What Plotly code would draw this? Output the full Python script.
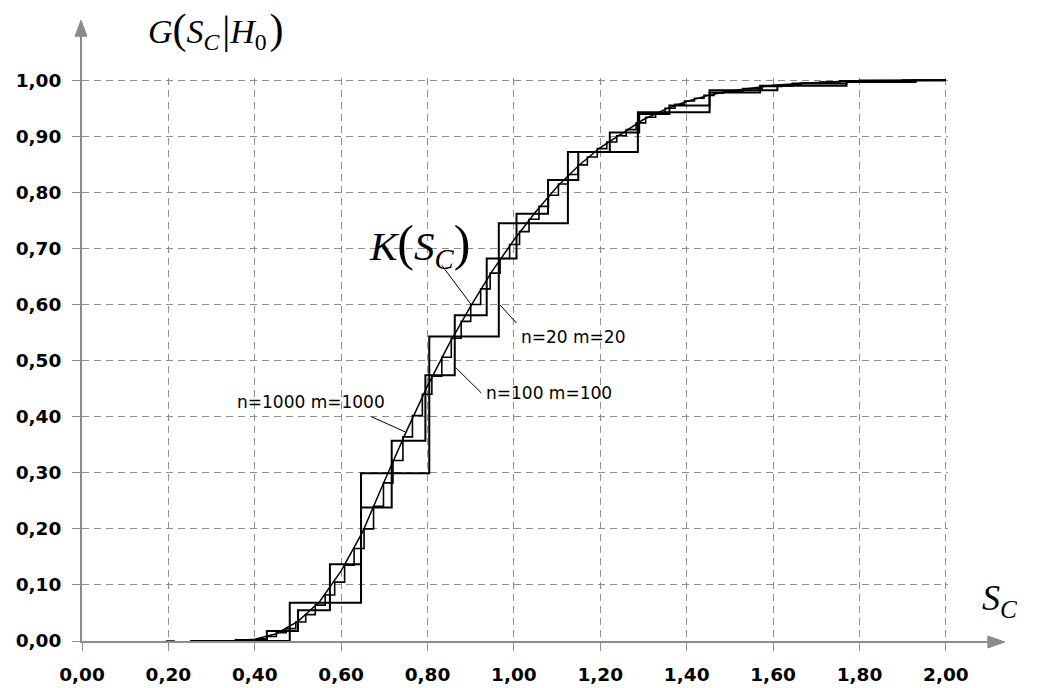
import plotly.graph_objects as go

# ---------------- data ----------------
x_ticks = [0.0, 0.2, 0.4, 0.6, 0.8, 1.0, 1.2, 1.4, 1.6, 1.8, 2.0]
y_ticks = [0.0, 0.1, 0.2, 0.3, 0.4, 0.5, 0.6, 0.7, 0.8, 0.9, 1.0]

# theoretical limit distribution K(S_C)
k_x = [0.194, 0.215, None, 0.25, 0.35, 0.40, 0.45, 0.50, 0.55, 0.60, 0.65, 0.70, 0.75,
       0.80, 0.85, 0.90, 0.95, 1.00, 1.05, 1.10, 1.15, 1.20, 1.25, 1.30, 1.35,
       1.40, 1.45, 1.50, 1.60, 1.70, 1.80, 1.90, 2.00]
k_y = [0.0, 0.0, None, 0.0, 0.0005, 0.003, 0.013, 0.035, 0.07, 0.125, 0.195, 0.285, 0.372,
       0.455, 0.53, 0.597, 0.66, 0.715, 0.765, 0.81, 0.848, 0.88, 0.905, 0.93, 0.948,
       0.962, 0.973, 0.981, 0.991, 0.996, 0.999, 1.0, 1.0]

# empirical distribution, n=20 m=20
n20_x = [0.25, 0.481, 0.646, 0.804, 0.965, 1.125, 1.287, 1.453, 1.61, 1.77, 1.93, 2.0]
n20_y = [0.0, 0.068, 0.299, 0.543, 0.745, 0.872, 0.943, 0.982, 0.990, 0.997, 1.0, 1.0]

# empirical distribution, n=100 m=100
n100_x = [0.25, 0.356, 0.428, 0.500, 0.574, 0.646, 0.717, 0.795, 0.863, 0.937, 1.006,
          1.079, 1.149, 1.222, 1.290, 1.360, 1.453, 1.570, 1.645, 1.770, 1.900, 2.0]
n100_y = [0.0, 0.002, 0.018, 0.055, 0.137, 0.238, 0.357, 0.474, 0.581, 0.682, 0.762,
          0.822, 0.872, 0.907, 0.940, 0.955, 0.978, 0.990, 0.994, 0.998, 1.0, 1.0]

# empirical distribution, n=1000 m=1000
n1000_x = [0.255, 0.405, 0.428, 0.450, 0.473, 0.495, 0.518, 0.540, 0.563, 0.585, 0.608,
           0.630, 0.653, 0.675, 0.698, 0.720, 0.743, 0.765, 0.788, 0.810, 0.833,
           0.855, 0.878, 0.900, 0.923, 0.945, 0.968, 0.990, 1.013, 1.035, 1.058,
           1.080, 1.103, 1.125, 1.148, 1.170, 1.193, 1.215, 1.238, 1.260, 1.283,
           1.305, 1.328, 1.350, 1.373, 1.395, 1.418, 1.440, 1.463, 1.485, 1.530,
           1.575, 1.620, 1.665, 1.710, 1.755, 1.800, 2.0]
n1000_y = [0.0, 0.004, 0.008, 0.015, 0.022, 0.034, 0.047, 0.064, 0.082, 0.105, 0.135,
           0.165, 0.200, 0.240, 0.282, 0.322, 0.364, 0.402, 0.440, 0.472, 0.506,
           0.540, 0.570, 0.600, 0.628, 0.656, 0.682, 0.707, 0.730, 0.752, 0.775,
           0.795, 0.815, 0.832, 0.849, 0.863, 0.878, 0.890, 0.901, 0.912, 0.924,
           0.934, 0.942, 0.950, 0.957, 0.963, 0.968, 0.973, 0.977, 0.980, 0.985,
           0.989, 0.992, 0.995, 0.997, 0.999, 1.0, 1.0]

series_labels = ["n=1000 m=1000", "n=100 m=100", "n=20 m=20"]

# ---------------- layout geometry ----------------
OFF = 8                      # default page margin of the html body
W, H = 1043 - OFF, 688 - OFF
X_RANGE = [0.0, 2.005]
Y_RANGE = [0.0, 1.004]
PX_X = 432.0   # pixels per unit on x
PX_Y = 561.0   # pixels per unit on y
ML = 82 - OFF
MB = H - (641 - OFF)
PW = PX_X * (X_RANGE[1] - X_RANGE[0])
PH = PX_Y * (Y_RANGE[1] - Y_RANGE[0])
MR = W - ML - PW
MT = H - MB - PH

AXIS_COL = "#8c8c8c"
GRID_COL = "#8f8f8f"


def px_to_paper_x(px):
    # px given in screen pixels of the reference
    return (px - OFF - ML) / PW


def py_to_paper_y(py):
    return (H - MB - (py - OFF)) / PH


def dx_to_paper(x):
    return (x - X_RANGE[0]) / (X_RANGE[1] - X_RANGE[0])


def dy_to_paper(y):
    return (y - Y_RANGE[0]) / (Y_RANGE[1] - Y_RANGE[0])


fig = go.Figure()

line_style = dict(color="black", width=2)
fig.add_trace(go.Scatter(x=k_x, y=k_y, mode="lines",
                         line=dict(color="black", width=1.5), hoverinfo="skip"))
fig.add_trace(go.Scatter(x=n1000_x, y=n1000_y, mode="lines", line_shape="hv",
                         line=dict(color="black", width=1.6), hoverinfo="skip"))
fig.add_trace(go.Scatter(x=n100_x, y=n100_y, mode="lines", line_shape="hv",
                         line=line_style, hoverinfo="skip"))
fig.add_trace(go.Scatter(x=n20_x, y=n20_y, mode="lines", line_shape="hv",
                         line=line_style, hoverinfo="skip"))

tick_font = dict(family="DejaVu Sans", size=18.5, color="black", weight="bold")

fig.update_layout(
    width=W, height=H,
    margin=dict(l=ML, r=MR, t=MT, b=MB, pad=0, autoexpand=False),
    paper_bgcolor="white", plot_bgcolor="white",
    showlegend=False,
    separators=", ",
    xaxis=dict(range=X_RANGE, tickvals=x_ticks, tickformat=".2f",
               showgrid=True, gridcolor=GRID_COL, gridwidth=1, griddash="7px,5px",
               showline=True, linecolor=AXIS_COL, linewidth=2,
               ticks="outside", ticklen=8, tickcolor=AXIS_COL, tickwidth=1,
               tickfont=tick_font, ticklabelstandoff=8, zeroline=False,
               automargin=False, fixedrange=True),
    yaxis=dict(range=Y_RANGE, tickvals=y_ticks, tickformat=".2f",
               showgrid=True, gridcolor=GRID_COL, gridwidth=1, griddash="7px,5px",
               showline=True, linecolor=AXIS_COL, linewidth=2,
               ticks="outside", ticklen=8, tickcolor=AXIS_COL, tickwidth=1,
               tickfont=tick_font, ticklabelstandoff=7, zeroline=False,
               automargin=False, fixedrange=True),
)

# axis extensions with arrow heads (paper coordinates, outside the plot area)
shapes = []
yc = py_to_paper_y(642)
shapes.append(dict(type="line", xref="paper", yref="paper",
                   x0=1.0, x1=px_to_paper_x(992), y0=yc, y1=yc,
                   line=dict(color=AXIS_COL, width=2)))
tip_x, base_x = px_to_paper_x(1005), px_to_paper_x(988)
dy = 6 / PH
shapes.append(dict(type="path", xref="paper", yref="paper",
                   path=f"M {tip_x} {yc} L {base_x} {yc + dy} L {base_x} {yc - dy} Z",
                   fillcolor=AXIS_COL, line=dict(color=AXIS_COL, width=1)))
xa = px_to_paper_x(81)
shapes.append(dict(type="line", xref="paper", yref="paper",
                   x0=xa, x1=xa, y0=1.0, y1=py_to_paper_y(34),
                   line=dict(color=AXIS_COL, width=2)))
tip_y, base_y = py_to_paper_y(20), py_to_paper_y(36)
dxp = 6 / PW
shapes.append(dict(type="path", xref="paper", yref="paper",
                   path=f"M {xa} {tip_y} L {xa - dxp} {base_y} L {xa + dxp} {base_y} Z",
                   fillcolor=AXIS_COL, line=dict(color=AXIS_COL, width=1)))

# leader lines (label -> curve)
leaders = [
    # (head x, head y, tail x, tail y)
    (0.748, 0.373, 0.670, 0.400),
    (0.866, 0.487, 0.925, 0.442),
    (0.968, 0.599, 1.006, 0.567),
    (0.902, 0.599, 0.833, 0.670),
]
for hx, hy, tx, ty in leaders:
    shapes.append(dict(type="line", xref="x", yref="y", x0=tx, y0=ty, x1=hx, y1=hy,
                       line=dict(color="black", width=1)))
fig.update_layout(shapes=shapes)

label_font = dict(family="DejaVu Sans", size=17, color="black")
label_pos = [(0.530, 0.427), (1.081, 0.442), (1.139, 0.543)]
for (lx, ly), txt in zip(label_pos, series_labels):
    fig.add_annotation(x=lx, y=ly, xref="x", yref="y", text=txt, showarrow=False,
                       font=label_font, xanchor="center", yanchor="middle")


def big(ch, size):
    return f'<span style="font-size:{size}px">{ch}</span>'


fig.add_annotation(
    x=dx_to_paper(0.310), y=dy_to_paper(1.088), xref="paper", yref="paper",
    showarrow=False, font=dict(family="Liberation Serif", size=34, color="black"),
    text=f"<i>G</i>{big('(', 42)}<i>S</i><sub><i>C</i></sub>&#8202;{big('|', 40)}"
         f"<i>H</i><sub>0</sub>&#8202;{big(')', 42)}",
    xanchor="center", yanchor="middle")
fig.add_annotation(
    x=dx_to_paper(0.782), y=dy_to_paper(0.706), xref="paper", yref="paper",
    showarrow=False, font=dict(family="Liberation Serif", size=41, color="black"),
    text=f"<i>K</i>{big('(', 50)}<i>S</i><sub><i>C</i></sub>{big(')', 50)}",
    xanchor="center", yanchor="middle")
fig.add_annotation(
    x=dx_to_paper(2.125), y=dy_to_paper(0.073), xref="paper", yref="paper",
    showarrow=False, font=dict(family="Liberation Serif", size=36, color="black"),
    text="<i>S</i><sub><i>C</i></sub>",
    xanchor="center", yanchor="middle")

fig.write_html("out.html")
